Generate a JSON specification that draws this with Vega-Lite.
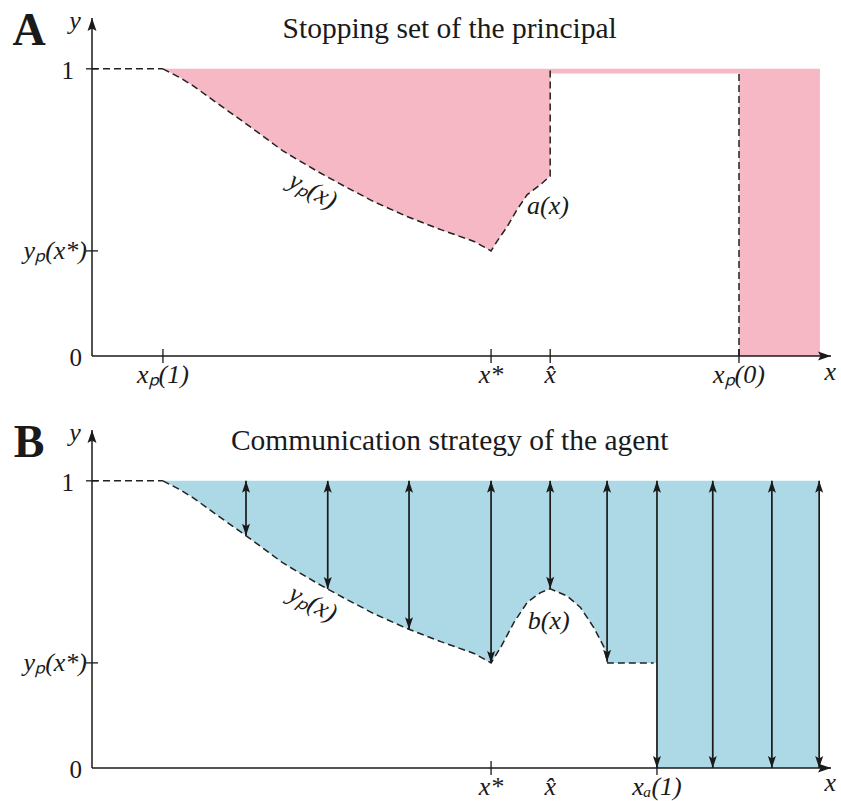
{
  "$schema": "https://vega.github.io/schema/vega-lite/v6.json",
  "background": "white",
  "padding": {"left": 12, "top": 8, "right": 5, "bottom": 5},
  "bounds": "flush",
  "spacing": 74,
  "config": {
    "view": {"stroke": null},
    "text": {"font": "Liberation Serif", "color": "#1a1a1a"}
  },
  "datasets": {
    "fillA": [
      {"x": 0.96, "lo": 1.0, "hi": 1}, {"x": 1.2, "lo": 0.968, "hi": 1}, {"x": 1.38, "lo": 0.939, "hi": 1},
      {"x": 1.69, "lo": 0.881, "hi": 1}, {"x": 2.1, "lo": 0.806, "hi": 1}, {"x": 2.59, "lo": 0.713, "hi": 1},
      {"x": 3.05, "lo": 0.643, "hi": 1}, {"x": 3.41, "lo": 0.592, "hi": 1}, {"x": 3.81, "lo": 0.538, "hi": 1},
      {"x": 4.26, "lo": 0.486, "hi": 1}, {"x": 4.72, "lo": 0.44, "hi": 1}, {"x": 5.17, "lo": 0.399, "hi": 1},
      {"x": 5.4, "lo": 0.366, "hi": 1}, {"x": 5.48, "lo": 0.399, "hi": 1}, {"x": 5.62, "lo": 0.451, "hi": 1},
      {"x": 5.75, "lo": 0.509, "hi": 1}, {"x": 5.89, "lo": 0.562, "hi": 1}, {"x": 6.07, "lo": 0.597, "hi": 1},
      {"x": 6.2, "lo": 0.627, "hi": 1}, {"x": 6.201, "lo": 0.984, "hi": 1}, {"x": 8.755, "lo": 0.984, "hi": 1},
      {"x": 8.756, "lo": 0, "hi": 1}, {"x": 9.85, "lo": 0, "hi": 1}
    ],
    "lineA": [
      {"seg": "top", "i": 0, "x": 0, "y": 1}, {"seg": "top", "i": 1, "x": 0.96, "y": 1},
      {"seg": "bd", "i": 0, "x": 0.96, "y": 1.0}, {"seg": "bd", "i": 1, "x": 1.2, "y": 0.968}, {"seg": "bd", "i": 2, "x": 1.38, "y": 0.939},
      {"seg": "bd", "i": 3, "x": 1.69, "y": 0.881}, {"seg": "bd", "i": 4, "x": 2.1, "y": 0.806}, {"seg": "bd", "i": 5, "x": 2.59, "y": 0.713},
      {"seg": "bd", "i": 6, "x": 3.05, "y": 0.643}, {"seg": "bd", "i": 7, "x": 3.41, "y": 0.592}, {"seg": "bd", "i": 8, "x": 3.81, "y": 0.538},
      {"seg": "bd", "i": 9, "x": 4.26, "y": 0.486}, {"seg": "bd", "i": 10, "x": 4.72, "y": 0.44}, {"seg": "bd", "i": 11, "x": 5.17, "y": 0.399},
      {"seg": "bd", "i": 12, "x": 5.4, "y": 0.366}, {"seg": "bd", "i": 13, "x": 5.48, "y": 0.399}, {"seg": "bd", "i": 14, "x": 5.62, "y": 0.451},
      {"seg": "bd", "i": 15, "x": 5.75, "y": 0.509}, {"seg": "bd", "i": 16, "x": 5.89, "y": 0.562}, {"seg": "bd", "i": 17, "x": 6.07, "y": 0.597},
      {"seg": "bd", "i": 18, "x": 6.2, "y": 0.627}, {"seg": "bd", "i": 19, "x": 6.2, "y": 1.0},
      {"seg": "xp0", "i": 0, "x": 8.755, "y": 0}, {"seg": "xp0", "i": 1, "x": 8.755, "y": 0.984}
    ],
    "fillB": [
      {"x": 0.96, "lo": 1.0, "hi": 1}, {"x": 1.2, "lo": 0.968, "hi": 1}, {"x": 1.38, "lo": 0.939, "hi": 1},
      {"x": 1.69, "lo": 0.881, "hi": 1}, {"x": 2.1, "lo": 0.806, "hi": 1}, {"x": 2.59, "lo": 0.713, "hi": 1},
      {"x": 3.05, "lo": 0.643, "hi": 1}, {"x": 3.41, "lo": 0.592, "hi": 1}, {"x": 3.81, "lo": 0.538, "hi": 1},
      {"x": 4.26, "lo": 0.486, "hi": 1}, {"x": 4.72, "lo": 0.44, "hi": 1}, {"x": 5.17, "lo": 0.399, "hi": 1},
      {"x": 5.4, "lo": 0.366, "hi": 1}, {"x": 5.53, "lo": 0.42, "hi": 1}, {"x": 5.71, "lo": 0.507, "hi": 1},
      {"x": 5.89, "lo": 0.577, "hi": 1}, {"x": 6.07, "lo": 0.611, "hi": 1}, {"x": 6.2, "lo": 0.624, "hi": 1},
      {"x": 6.43, "lo": 0.599, "hi": 1}, {"x": 6.61, "lo": 0.559, "hi": 1}, {"x": 6.79, "lo": 0.489, "hi": 1},
      {"x": 6.93, "lo": 0.42, "hi": 1}, {"x": 6.97, "lo": 0.373, "hi": 1}, {"x": 6.98, "lo": 0.366, "hi": 1},
      {"x": 7.645, "lo": 0.366, "hi": 1}, {"x": 7.646, "lo": 0, "hi": 1}, {"x": 9.85, "lo": 0, "hi": 1}
    ],
    "lineB": [
      {"seg": "top", "i": 0, "x": 0, "y": 1}, {"seg": "top", "i": 1, "x": 0.96, "y": 1},
      {"seg": "bd", "i": 0, "x": 0.96, "y": 1.0}, {"seg": "bd", "i": 1, "x": 1.2, "y": 0.968}, {"seg": "bd", "i": 2, "x": 1.38, "y": 0.939},
      {"seg": "bd", "i": 3, "x": 1.69, "y": 0.881}, {"seg": "bd", "i": 4, "x": 2.1, "y": 0.806}, {"seg": "bd", "i": 5, "x": 2.59, "y": 0.713},
      {"seg": "bd", "i": 6, "x": 3.05, "y": 0.643}, {"seg": "bd", "i": 7, "x": 3.41, "y": 0.592}, {"seg": "bd", "i": 8, "x": 3.81, "y": 0.538},
      {"seg": "bd", "i": 9, "x": 4.26, "y": 0.486}, {"seg": "bd", "i": 10, "x": 4.72, "y": 0.44}, {"seg": "bd", "i": 11, "x": 5.17, "y": 0.399},
      {"seg": "bd", "i": 12, "x": 5.4, "y": 0.366}, {"seg": "bd", "i": 13, "x": 5.53, "y": 0.42}, {"seg": "bd", "i": 14, "x": 5.71, "y": 0.507},
      {"seg": "bd", "i": 15, "x": 5.89, "y": 0.577}, {"seg": "bd", "i": 16, "x": 6.07, "y": 0.611}, {"seg": "bd", "i": 17, "x": 6.2, "y": 0.624},
      {"seg": "bd", "i": 18, "x": 6.43, "y": 0.599}, {"seg": "bd", "i": 19, "x": 6.61, "y": 0.559}, {"seg": "bd", "i": 20, "x": 6.79, "y": 0.489},
      {"seg": "bd", "i": 21, "x": 6.93, "y": 0.42}, {"seg": "bd", "i": 22, "x": 6.97, "y": 0.373}, {"seg": "bd", "i": 23, "x": 6.98, "y": 0.366},
      {"seg": "bd", "i": 24, "x": 7.6, "y": 0.366}
    ],
    "arrowsB": [
      {"x": 2.084, "lo": 0.809, "hi": 1}, {"x": 3.19, "lo": 0.623, "hi": 1}, {"x": 4.29, "lo": 0.483, "hi": 1},
      {"x": 5.4, "lo": 0.366, "hi": 1}, {"x": 6.2, "lo": 0.624, "hi": 1}, {"x": 6.97, "lo": 0.37, "hi": 1},
      {"x": 7.645, "lo": 0, "hi": 1}, {"x": 8.4, "lo": 0, "hi": 1}, {"x": 9.2, "lo": 0, "hi": 1}, {"x": 9.84, "lo": 0, "hi": 1}
    ],
    "axes": [
      {"x0": 0, "x1": 10, "y0": 0, "y1": 1.177}
    ],
    "xlab": [
      {"panel": "A", "x": 0.96, "label": "xₚ(1)"}, {"panel": "A", "x": 5.4, "label": "x*"},
      {"panel": "A", "x": 6.2, "label": "x̂"}, {"panel": "A", "x": 8.755, "label": "xₚ(0)"},
      {"panel": "B", "x": 5.4, "label": "x*"}, {"panel": "B", "x": 6.2, "label": "x̂"},
      {"panel": "B", "x": 7.645, "label": "xₐ(1)"}
    ],
    "xtick": [
      {"panel": "A", "x": 0.96}, {"panel": "A", "x": 5.4}, {"panel": "A", "x": 6.2}, {"panel": "A", "x": 8.755},
      {"panel": "B", "x": 5.4}, {"panel": "B", "x": 7.645}
    ],
    "ylab": [
      {"kind": "one", "y": 1, "label": "1"}, {"kind": "zero", "y": 0, "label": "0"},
      {"kind": "math", "y": 0.366, "label": "yₚ(x*)"}
    ],
    "notes": [
      {"panel": "A", "kind": "letter", "x": -0.85, "y": 1.13, "text": "A"},
      {"panel": "B", "kind": "letter", "x": -0.85, "y": 1.13, "text": "B"},
      {"panel": "A", "kind": "title", "x": 4.84, "y": 1.109, "text": "Stopping set of the principal"},
      {"panel": "B", "kind": "title", "x": 4.84, "y": 1.109, "text": "Communication strategy of the agent"},
      {"panel": "A", "kind": "axis", "x": -0.23, "y": 1.165, "text": "y"},
      {"panel": "A", "kind": "axis", "x": 9.99, "y": -0.057, "text": "x"},
      {"panel": "B", "kind": "axis", "x": -0.23, "y": 1.165, "text": "y"},
      {"panel": "B", "kind": "axis", "x": 9.99, "y": -0.052, "text": "x"},
      {"panel": "A", "kind": "curve", "x": 6.17, "y": 0.522, "text": "a(x)"},
      {"panel": "B", "kind": "curve", "x": 6.18, "y": 0.511, "text": "b(x)"},
      {"panel": "A", "kind": "rot", "x": 2.99, "y": 0.576, "text": "yₚ(x)"},
      {"panel": "B", "kind": "rot", "x": 2.99, "y": 0.573, "text": "yₚ(x)"}
    ]
  },
  "vconcat": [
    {
      "width": 739,
      "height": 338,
      "layer": [
        {
          "data": {"name": "fillA"},
          "mark": {"type": "area", "fill": "#F5B8C4", "fillOpacity": 1, "stroke": null},
          "encoding": {
            "x": {"field": "x", "type": "quantitative", "scale": {"domain": [0, 10], "nice": false, "zero": false}, "axis": null},
            "y": {"field": "lo", "type": "quantitative", "scale": {"domain": [0, 1.177], "nice": false, "zero": false}, "axis": null},
            "y2": {"field": "hi"}
          }
        },
        {
          "data": {"name": "lineA"},
          "mark": {"type": "line", "color": "#222222", "strokeWidth": 1.5, "strokeDash": [7, 4]},
          "encoding": {
            "x": {"field": "x", "type": "quantitative", "axis": null},
            "y": {"field": "y", "type": "quantitative", "axis": null},
            "detail": {"field": "seg"},
            "order": {"field": "i", "type": "quantitative"}
          }
        },
        {
          "data": {"name": "axes"},
          "mark": {"type": "rule", "color": "#1a1a1a", "strokeWidth": 1.5},
          "encoding": {
            "x": {"field": "x0", "type": "quantitative", "axis": null},
            "x2": {"field": "x1"},
            "y": {"field": "y0", "type": "quantitative", "axis": null}
          }
        },
        {
          "data": {"name": "axes"},
          "mark": {"type": "rule", "color": "#1a1a1a", "strokeWidth": 1.5},
          "encoding": {
            "x": {"field": "x0", "type": "quantitative", "axis": null},
            "y": {"field": "y0", "type": "quantitative", "axis": null},
            "y2": {"field": "y1"}
          }
        },
        {
          "data": {"name": "xtick"},
          "transform": [{"filter": "datum.panel == 'A'"}],
          "mark": {"type": "tick", "orient": "vertical", "size": 14, "thickness": 1.3, "color": "#1a1a1a", "opacity": 1},
          "encoding": {
            "x": {"field": "x", "type": "quantitative", "axis": null},
            "y": {"datum": 0, "axis": null}
          }
        },
        {
          "data": {"name": "ylab"},
          "transform": [{"filter": "datum.y > 0"}],
          "mark": {"type": "tick", "orient": "horizontal", "size": 12, "thickness": 1.3, "color": "#1a1a1a", "opacity": 1},
          "encoding": {
            "y": {"field": "y", "type": "quantitative", "axis": null},
            "x": {"datum": 0, "axis": null}
          }
        },
        {
          "data": {"name": "xlab"},
          "transform": [{"filter": "datum.panel == 'A'"}],
          "mark": {"type": "text", "fontSize": 26, "fontStyle": "italic", "align": "center", "baseline": "alphabetic", "dy": 27},
          "encoding": {
            "x": {"field": "x", "type": "quantitative", "axis": null},
            "y": {"datum": 0, "axis": null},
            "text": {"field": "label"}
          }
        },
        {
          "data": {"name": "ylab"},
          "transform": [{"filter": "datum.kind == 'one'"}],
          "mark": {"type": "text", "fontSize": 25, "align": "right", "baseline": "middle", "dx": -18, "dy": 2},
          "encoding": {
            "y": {"field": "y", "type": "quantitative", "axis": null},
            "x": {"datum": 0, "axis": null},
            "text": {"field": "label"}
          }
        },
        {
          "data": {"name": "ylab"},
          "transform": [{"filter": "datum.kind == 'zero'"}],
          "mark": {"type": "text", "fontSize": 25, "align": "right", "baseline": "middle", "dx": -10, "dy": 2},
          "encoding": {
            "y": {"field": "y", "type": "quantitative", "axis": null},
            "x": {"datum": 0, "axis": null},
            "text": {"field": "label"}
          }
        },
        {
          "data": {"name": "ylab"},
          "transform": [{"filter": "datum.kind == 'math'"}],
          "mark": {"type": "text", "fontSize": 26, "fontStyle": "italic", "align": "right", "baseline": "middle", "dx": -5},
          "encoding": {
            "y": {"field": "y", "type": "quantitative", "axis": null},
            "x": {"datum": 0, "axis": null},
            "text": {"field": "label"}
          }
        },
        {
          "data": {"name": "axes"},
          "mark": {"type": "point", "shape": "M0,0L4.5,13L0,10.5L-4.5,13Z", "size": 4, "filled": true, "color": "#1a1a1a", "opacity": 1, "strokeWidth": 0},
          "encoding": {
            "x": {"field": "x0", "type": "quantitative", "axis": null},
            "y": {"field": "y1", "type": "quantitative", "axis": null}
          }
        },
        {
          "data": {"name": "axes"},
          "mark": {"type": "point", "shape": "M0,0L-13,4.5L-10.5,0L-13,-4.5Z", "size": 4, "filled": true, "color": "#1a1a1a", "opacity": 1, "strokeWidth": 0},
          "encoding": {
            "x": {"field": "x1", "type": "quantitative", "axis": null},
            "y": {"field": "y0", "type": "quantitative", "axis": null}
          }
        },
        {
          "data": {"name": "notes"},
          "transform": [{"filter": "datum.panel == 'A' && datum.kind == 'letter'"}],
          "mark": {"type": "text", "fontSize": 46, "fontWeight": "bold", "align": "center", "baseline": "middle"},
          "encoding": {
            "x": {"field": "x", "type": "quantitative", "axis": null},
            "y": {"field": "y", "type": "quantitative", "axis": null},
            "text": {"field": "text"}
          }
        },
        {
          "data": {"name": "notes"},
          "transform": [{"filter": "datum.panel == 'A' && datum.kind == 'title'"}],
          "mark": {"type": "text", "fontSize": 29.5, "align": "center", "baseline": "alphabetic"},
          "encoding": {
            "x": {"field": "x", "type": "quantitative", "axis": null},
            "y": {"field": "y", "type": "quantitative", "axis": null},
            "text": {"field": "text"}
          }
        },
        {
          "data": {"name": "notes"},
          "transform": [{"filter": "datum.panel == 'A' && (datum.kind == 'axis' || datum.kind == 'curve')"}],
          "mark": {"type": "text", "fontSize": 26, "fontStyle": "italic", "align": "center", "baseline": "middle"},
          "encoding": {
            "x": {"field": "x", "type": "quantitative", "axis": null},
            "y": {"field": "y", "type": "quantitative", "axis": null},
            "text": {"field": "text"}
          }
        },
        {
          "data": {"name": "notes"},
          "transform": [{"filter": "datum.panel == 'A' && datum.kind == 'rot'"}],
          "mark": {"type": "text", "fontSize": 26, "fontStyle": "italic", "align": "center", "baseline": "middle", "angle": 28},
          "encoding": {
            "x": {"field": "x", "type": "quantitative", "axis": null},
            "y": {"field": "y", "type": "quantitative", "axis": null},
            "text": {"field": "text"}
          }
        }
      ]
    },
    {
      "width": 739,
      "height": 338,
      "layer": [
        {
          "data": {"name": "fillB"},
          "mark": {"type": "area", "fill": "#ADD9E6", "fillOpacity": 1, "stroke": null},
          "encoding": {
            "x": {"field": "x", "type": "quantitative", "scale": {"domain": [0, 10], "nice": false, "zero": false}, "axis": null},
            "y": {"field": "lo", "type": "quantitative", "scale": {"domain": [0, 1.177], "nice": false, "zero": false}, "axis": null},
            "y2": {"field": "hi"}
          }
        },
        {
          "data": {"name": "lineB"},
          "mark": {"type": "line", "color": "#222222", "strokeWidth": 1.5, "strokeDash": [7, 4]},
          "encoding": {
            "x": {"field": "x", "type": "quantitative", "axis": null},
            "y": {"field": "y", "type": "quantitative", "axis": null},
            "detail": {"field": "seg"},
            "order": {"field": "i", "type": "quantitative"}
          }
        },
        {
          "data": {"name": "axes"},
          "mark": {"type": "rule", "color": "#1a1a1a", "strokeWidth": 1.5},
          "encoding": {
            "x": {"field": "x0", "type": "quantitative", "axis": null},
            "x2": {"field": "x1"},
            "y": {"field": "y0", "type": "quantitative", "axis": null}
          }
        },
        {
          "data": {"name": "axes"},
          "mark": {"type": "rule", "color": "#1a1a1a", "strokeWidth": 1.5},
          "encoding": {
            "x": {"field": "x0", "type": "quantitative", "axis": null},
            "y": {"field": "y0", "type": "quantitative", "axis": null},
            "y2": {"field": "y1"}
          }
        },
        {
          "data": {"name": "arrowsB"},
          "mark": {"type": "rule", "color": "#1a1a1a", "strokeWidth": 1.7},
          "encoding": {
            "x": {"field": "x", "type": "quantitative", "axis": null},
            "y": {"field": "lo", "type": "quantitative", "axis": null},
            "y2": {"field": "hi"}
          }
        },
        {
          "data": {"name": "arrowsB"},
          "mark": {"type": "point", "shape": "M0,0L4,12L0,9.5L-4,12Z", "size": 4, "filled": true, "color": "#1a1a1a", "opacity": 1, "strokeWidth": 0},
          "encoding": {
            "x": {"field": "x", "type": "quantitative", "axis": null},
            "y": {"field": "hi", "type": "quantitative", "axis": null}
          }
        },
        {
          "data": {"name": "arrowsB"},
          "mark": {"type": "point", "shape": "M0,0L4,-12L0,-9.5L-4,-12Z", "size": 4, "filled": true, "color": "#1a1a1a", "opacity": 1, "strokeWidth": 0},
          "encoding": {
            "x": {"field": "x", "type": "quantitative", "axis": null},
            "y": {"field": "lo", "type": "quantitative", "axis": null}
          }
        },
        {
          "data": {"name": "xtick"},
          "transform": [{"filter": "datum.panel == 'B'"}],
          "mark": {"type": "tick", "orient": "vertical", "size": 14, "thickness": 1.3, "color": "#1a1a1a", "opacity": 1},
          "encoding": {
            "x": {"field": "x", "type": "quantitative", "axis": null},
            "y": {"datum": 0, "axis": null}
          }
        },
        {
          "data": {"name": "ylab"},
          "transform": [{"filter": "datum.y > 0"}],
          "mark": {"type": "tick", "orient": "horizontal", "size": 12, "thickness": 1.3, "color": "#1a1a1a", "opacity": 1},
          "encoding": {
            "y": {"field": "y", "type": "quantitative", "axis": null},
            "x": {"datum": 0, "axis": null}
          }
        },
        {
          "data": {"name": "xlab"},
          "transform": [{"filter": "datum.panel == 'B'"}],
          "mark": {"type": "text", "fontSize": 26, "fontStyle": "italic", "align": "center", "baseline": "alphabetic", "dy": 27},
          "encoding": {
            "x": {"field": "x", "type": "quantitative", "axis": null},
            "y": {"datum": 0, "axis": null},
            "text": {"field": "label"}
          }
        },
        {
          "data": {"name": "ylab"},
          "transform": [{"filter": "datum.kind == 'one'"}],
          "mark": {"type": "text", "fontSize": 25, "align": "right", "baseline": "middle", "dx": -18, "dy": 2},
          "encoding": {
            "y": {"field": "y", "type": "quantitative", "axis": null},
            "x": {"datum": 0, "axis": null},
            "text": {"field": "label"}
          }
        },
        {
          "data": {"name": "ylab"},
          "transform": [{"filter": "datum.kind == 'zero'"}],
          "mark": {"type": "text", "fontSize": 25, "align": "right", "baseline": "middle", "dx": -10, "dy": 2},
          "encoding": {
            "y": {"field": "y", "type": "quantitative", "axis": null},
            "x": {"datum": 0, "axis": null},
            "text": {"field": "label"}
          }
        },
        {
          "data": {"name": "ylab"},
          "transform": [{"filter": "datum.kind == 'math'"}],
          "mark": {"type": "text", "fontSize": 26, "fontStyle": "italic", "align": "right", "baseline": "middle", "dx": -5},
          "encoding": {
            "y": {"field": "y", "type": "quantitative", "axis": null},
            "x": {"datum": 0, "axis": null},
            "text": {"field": "label"}
          }
        },
        {
          "data": {"name": "axes"},
          "mark": {"type": "point", "shape": "M0,0L4.5,13L0,10.5L-4.5,13Z", "size": 4, "filled": true, "color": "#1a1a1a", "opacity": 1, "strokeWidth": 0},
          "encoding": {
            "x": {"field": "x0", "type": "quantitative", "axis": null},
            "y": {"field": "y1", "type": "quantitative", "axis": null}
          }
        },
        {
          "data": {"name": "axes"},
          "mark": {"type": "point", "shape": "M0,0L-13,4.5L-10.5,0L-13,-4.5Z", "size": 4, "filled": true, "color": "#1a1a1a", "opacity": 1, "strokeWidth": 0},
          "encoding": {
            "x": {"field": "x1", "type": "quantitative", "axis": null},
            "y": {"field": "y0", "type": "quantitative", "axis": null}
          }
        },
        {
          "data": {"name": "notes"},
          "transform": [{"filter": "datum.panel == 'B' && datum.kind == 'letter'"}],
          "mark": {"type": "text", "fontSize": 46, "fontWeight": "bold", "align": "center", "baseline": "middle"},
          "encoding": {
            "x": {"field": "x", "type": "quantitative", "axis": null},
            "y": {"field": "y", "type": "quantitative", "axis": null},
            "text": {"field": "text"}
          }
        },
        {
          "data": {"name": "notes"},
          "transform": [{"filter": "datum.panel == 'B' && datum.kind == 'title'"}],
          "mark": {"type": "text", "fontSize": 29.5, "align": "center", "baseline": "alphabetic"},
          "encoding": {
            "x": {"field": "x", "type": "quantitative", "axis": null},
            "y": {"field": "y", "type": "quantitative", "axis": null},
            "text": {"field": "text"}
          }
        },
        {
          "data": {"name": "notes"},
          "transform": [{"filter": "datum.panel == 'B' && (datum.kind == 'axis' || datum.kind == 'curve')"}],
          "mark": {"type": "text", "fontSize": 26, "fontStyle": "italic", "align": "center", "baseline": "middle"},
          "encoding": {
            "x": {"field": "x", "type": "quantitative", "axis": null},
            "y": {"field": "y", "type": "quantitative", "axis": null},
            "text": {"field": "text"}
          }
        },
        {
          "data": {"name": "notes"},
          "transform": [{"filter": "datum.panel == 'B' && datum.kind == 'rot'"}],
          "mark": {"type": "text", "fontSize": 26, "fontStyle": "italic", "align": "center", "baseline": "middle", "angle": 28},
          "encoding": {
            "x": {"field": "x", "type": "quantitative", "axis": null},
            "y": {"field": "y", "type": "quantitative", "axis": null},
            "text": {"field": "text"}
          }
        }
      ]
    }
  ]
}
